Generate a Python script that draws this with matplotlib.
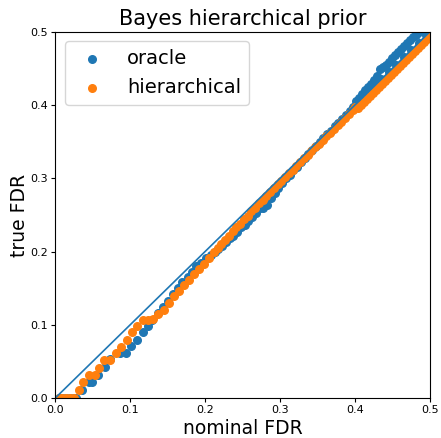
import matplotlib
matplotlib.use("Agg")
import matplotlib.pyplot as plt

# oracle (blue)
oracle_x = [0.005, 0.01, 0.015, 0.02, 0.025, 0.028, 0.036, 0.045, 0.049, 0.058,
            0.067, 0.073, 0.087, 0.095, 0.102, 0.11, 0.117, 0.124, 0.130, 0.138,
            0.144, 0.151, 0.158, 0.164, 0.170, 0.177, 0.183, 0.188, 0.195, 0.202,
            0.208, 0.213, 0.218, 0.223, 0.228, 0.233, 0.238, 0.243, 0.248, 0.253,
            0.258, 0.263, 0.268, 0.273, 0.278, 0.283, 0.288, 0.293, 0.298, 0.303,
            0.308, 0.313, 0.318, 0.323, 0.328, 0.333, 0.338, 0.343, 0.348, 0.353,
            0.358, 0.363, 0.368, 0.373, 0.378, 0.383, 0.388, 0.393, 0.398, 0.402,
            0.406, 0.410, 0.414, 0.418, 0.422, 0.426, 0.430, 0.434, 0.438, 0.442,
            0.446, 0.450, 0.454, 0.458, 0.462, 0.466, 0.470, 0.474, 0.478, 0.482,
            0.486, 0.490, 0.405, 0.415, 0.425, 0.435, 0.445, 0.455, 0.465, 0.475,
            0.485, 0.495]
oracle_y = [0.0, 0.0, 0.0, 0.0, 0.0, 0.0, 0.011, 0.022, 0.022, 0.032,
            0.043, 0.053, 0.062, 0.062, 0.071, 0.080, 0.090, 0.099, 0.107, 0.117,
            0.125, 0.133, 0.142, 0.150, 0.158, 0.166, 0.172, 0.180, 0.185, 0.191,
            0.196, 0.200, 0.204, 0.208, 0.213, 0.218, 0.222, 0.227, 0.233, 0.237,
            0.242, 0.247, 0.253, 0.259, 0.260, 0.264, 0.273, 0.280, 0.287, 0.294,
            0.300, 0.305, 0.311, 0.316, 0.322, 0.327, 0.333, 0.338, 0.344, 0.349,
            0.355, 0.360, 0.365, 0.371, 0.376, 0.381, 0.386, 0.392, 0.397, 0.405,
            0.410, 0.415, 0.420, 0.424, 0.429, 0.434, 0.440, 0.449, 0.452, 0.455,
            0.459, 0.464, 0.468, 0.472, 0.476, 0.480, 0.484, 0.488, 0.492, 0.496,
            0.500, 0.505, 0.404, 0.414, 0.424, 0.435, 0.445, 0.455, 0.465, 0.475,
            0.485, 0.495]

# hierarchical (orange)
hier_x = [0.005, 0.01, 0.015, 0.02, 0.025, 0.032, 0.038, 0.046, 0.053, 0.059,
          0.066, 0.073, 0.081, 0.088, 0.096, 0.103, 0.110, 0.118, 0.124, 0.131,
          0.138, 0.145, 0.152, 0.159, 0.165, 0.172, 0.179, 0.185, 0.192, 0.199,
          0.206, 0.212, 0.217, 0.222, 0.227, 0.232, 0.237, 0.242, 0.247, 0.252,
          0.257, 0.262, 0.267, 0.272, 0.277, 0.282, 0.287, 0.292, 0.297, 0.302,
          0.307, 0.312, 0.317, 0.322, 0.327, 0.332, 0.337, 0.342, 0.347, 0.352,
          0.357, 0.362, 0.367, 0.372, 0.377, 0.382, 0.387, 0.392, 0.397, 0.400,
          0.404, 0.408, 0.412, 0.416, 0.420, 0.424, 0.428, 0.432, 0.436, 0.440,
          0.444, 0.448, 0.452, 0.456, 0.460, 0.464, 0.468, 0.472, 0.476, 0.480,
          0.484, 0.488, 0.492, 0.496, 0.500]
hier_y = [0.0, 0.0, 0.0, 0.0, 0.0, 0.011, 0.022, 0.032, 0.032, 0.042,
          0.052, 0.052, 0.062, 0.070, 0.080, 0.090, 0.098, 0.107, 0.107, 0.108,
          0.115, 0.121, 0.130, 0.139, 0.146, 0.155, 0.162, 0.169, 0.177, 0.183,
          0.191, 0.199, 0.205, 0.210, 0.216, 0.222, 0.228, 0.233, 0.238, 0.244,
          0.249, 0.255, 0.260, 0.266, 0.271, 0.276, 0.281, 0.287, 0.292, 0.297,
          0.302, 0.307, 0.312, 0.317, 0.322, 0.327, 0.332, 0.337, 0.342, 0.347,
          0.352, 0.357, 0.362, 0.367, 0.372, 0.377, 0.382, 0.387, 0.393, 0.397,
          0.396, 0.400, 0.404, 0.408, 0.412, 0.416, 0.420, 0.425, 0.429, 0.433,
          0.437, 0.441, 0.445, 0.449, 0.453, 0.457, 0.461, 0.466, 0.470, 0.474,
          0.478, 0.482, 0.486, 0.490, 0.494]

fig = plt.figure(figsize=(4.41, 4.38), dpi=100)
ax = fig.add_axes([0.1247, 0.0906, 0.8503, 0.8372])

ax.scatter(oracle_x, oracle_y, s=30, label="oracle")
ax.scatter(hier_x, hier_y, s=30, label="hierarchical")
ax.plot([0, 0.5], [0, 0.5], color="C0", lw=1.2)

ax.set_xlim(0, 0.5)
ax.set_ylim(0, 0.5)
ax.tick_params(labelsize=8, length=3, pad=2)
ax.set_title("Bayes hierarchical prior", fontsize=15, pad=5)
ax.set_xlabel("nominal FDR", fontsize=13.5, labelpad=3)
ax.set_ylabel("true FDR", fontsize=13.5, labelpad=1)
ax.legend(loc="upper left", fontsize=14)

fig.savefig("out.png", dpi=100)
